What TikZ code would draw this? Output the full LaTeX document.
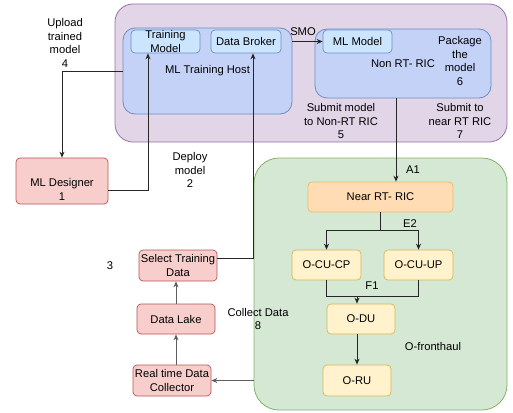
\documentclass[tikz,border=0pt]{standalone}
\usepackage{fontspec}
\setmainfont{Liberation Sans}
\usetikzlibrary{arrows.meta}

\definecolor{smofill}{HTML}{E1D5E7}
\definecolor{smodraw}{HTML}{9673A6}
\definecolor{hostfill}{HTML}{C4D2F7}
\definecolor{lightblue}{HTML}{CCE5FF}
\definecolor{bluedraw}{HTML}{6C8EBF}
\definecolor{greenfill}{HTML}{D5E8D4}
\definecolor{greendraw}{HTML}{82B366}
\definecolor{redfill}{HTML}{F8CECC}
\definecolor{reddraw}{HTML}{B85450}
\definecolor{orangefill}{HTML}{FFDCB3}
\definecolor{orangedraw}{HTML}{E8BD6E}
\definecolor{yfill}{HTML}{FFF2CC}
\definecolor{ydraw}{HTML}{D6B656}
\definecolor{linkgray}{HTML}{5E5E5E}

\begin{document}
\begin{tikzpicture}[x=1pt, y=-1pt, font=\fontsize{11.2}{13.7}\selectfont,
		>={Stealth[length=6pt, width=5pt]},
		box/.style={draw, rounded corners=4pt, line width=0.7pt, align=center, inner sep=0pt},
		redbox/.style={box, fill=redfill, draw=reddraw},
		bluebox/.style={box, fill=lightblue, draw=bluedraw},
		ybox/.style={box, fill=yfill, draw=ydraw},
		group/.style={draw, line width=0.8pt, align=center, inner sep=0pt},
		lbl/.style={align=center, inner sep=0pt},
		wire/.style={line width=0.9pt, draw=black!85},
		link/.style={wire, ->},
		graylink/.style={link, draw=linkgray}]
		
		\useasboundingbox (0,0) rectangle (513,412);
		
		%% SMO side
		\node[group, rounded corners=18pt, fill=smofill, draw=smodraw, minimum width=392pt, minimum height=138pt] (smo) at (311,73) {};
		\node[group, rounded corners=12pt, fill=hostfill, draw=bluedraw, minimum width=169pt, minimum height=86pt] (host) at (207.5,71) {ML Training Host};
		\node[bluebox, minimum width=69pt, minimum height=23pt, label={[lbl]center:Training\\Model}] (trainmodel) at (165.5,41.5) {};
		\node[bluebox, minimum width=70pt, minimum height=23pt] (broker) at (246,41.5) {Data Broker};
		\node[group, rounded corners=12pt, fill=hostfill, draw=bluedraw, minimum width=176pt, minimum height=69pt] (nonrt) at (403,63.5) {Non RT- RIC};
		\node[bluebox, minimum width=69pt, minimum height=23pt] (mlmodel) at (357.5,41.5) {ML Model};
		
		\node[lbl] (smolbl) at (303,32) {SMO};
		\node[lbl] (package) at (460,61) {Package\\the\\model\\6};
		\node[lbl] (submitfive) at (341,121) {Submit model\\to Non-RT RIC\\5};
		\node[lbl] (submitseven) at (460,121) {Submit to\\near RT RIC\\7};
		
		%% RAN side
		\node[group, rounded corners=25pt, fill=greenfill, draw=greendraw, minimum width=253pt, minimum height=252pt] (ran) at (380.5,284) {};
		\node[box, fill=orangefill, draw=orangedraw, minimum width=145pt, minimum height=30pt] (nearric) at (380.5,197) {Near RT- RIC};
		\node[ybox, minimum width=69pt, minimum height=30pt] (ocucp) at (326.5,265) {O-CU-CP};
		\node[ybox, minimum width=69pt, minimum height=30pt] (ocuup) at (418.5,265) {O-CU-UP};
		\node[ybox, minimum width=68pt, minimum height=30pt] (odu) at (361,319) {O-DU};
		\node[ybox, minimum width=68pt, minimum height=31pt] (oru) at (357,380.5) {O-RU};
		
		\node[lbl] (aone) at (413,170) {A1};
		\node[lbl] (etwo) at (410,224) {E2};
		\node[lbl] (fone) at (372,286) {F1};
		\node[lbl] (fronthaul) at (433,346) {O-fronthaul};
		
		%% designer and data path
		\node[redbox, minimum width=92pt, minimum height=46pt, label={[lbl, yshift=-8.5pt]center:ML Designer\\1}] (designer) at (62,181) {};
		\node[redbox, minimum width=78pt, minimum height=31pt] (selecttd) at (178,265.5) {Select Training\\Data};
		\node[redbox, minimum width=78pt, minimum height=30pt] (lake) at (176,319) {Data Lake};
		\node[redbox, minimum width=78pt, minimum height=31pt] (rtdc) at (172,380.5) {Real time Data\\Collector};
		
		\node[lbl] (upload) at (65,43) {Upload\\trained\\model\\4};
		\node[lbl] (deploy) at (190,170) {Deploy\\model\\2};
		\node[lbl] (three) at (110,266) {3};
		\node[lbl] (collect) at (258,319) {Collect Data\\8};
		
		%% connectors
		\draw[link] (host.west) -| (designer.north);
		\draw[link] ([yshift=-9pt]designer.east) -| ([xshift=-17.5pt]trainmodel.south);
		\draw[link] ([yshift=7pt]selecttd.east) -| ([xshift=7pt]broker.south);
		\draw[link] (host.east |- mlmodel.west) -- (mlmodel.west);
		
		\coordinate (aonetop) at ([xshift=-7pt]nonrt.south);
		\draw[link] (aonetop) -- (aonetop |- nearric.north);
		
		\draw[wire] (nearric.south) -- ++(0,18) coordinate (etwobus);
		\draw[link] (etwobus) -| (ocucp.north);
		\draw[link] (etwobus) -| (ocuup.north);
		
		\draw[wire] (ocucp.south) -- ++(0,16) coordinate (fonebus) -| (ocuup.south);
		\draw[link] (fonebus -| oru.north) -- (odu.north -| oru.north);
		\draw[link] (odu.south -| oru.north) -- (oru.north);
		
		\draw[graylink] (rtdc.north -| lake.south) -- (lake.south);
		\draw[graylink] (lake.north) -- (selecttd.south -| lake.north);
		\draw[graylink] (ran.west |- rtdc.east) -- (rtdc.east);
	\end{tikzpicture}
\end{document}
